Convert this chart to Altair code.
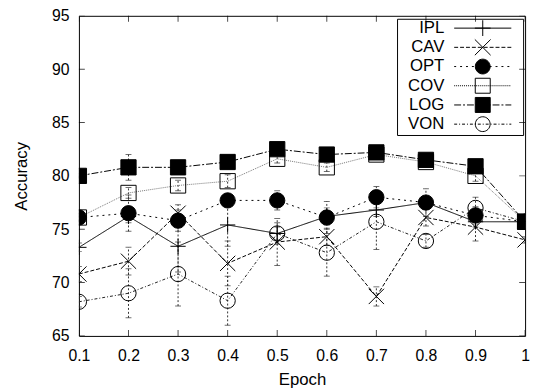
import altair as alt
import pandas as pd

SERIES = ["IPL", "CAV", "OPT", "COV", "LOG", "VON"]
EPOCH = [0.1, 0.2, 0.3, 0.4, 0.5, 0.6, 0.7, 0.8, 0.9, 1.0]

IPL = [73.3, 76.2, 73.4, 75.4, 74.6, 76.2, 76.8, 77.5, 75.7, 75.7]
CAV = [70.8, 72.0, 76.5, 71.8, 73.8, 74.3, 68.7, 76.1, 75.2, 74.0]
OPT = [76.1, 76.5, 75.8, 77.7, 77.7, 76.1, 78.0, 77.5, 76.3, 75.7]
COV = [76.1, 78.4, 79.1, 79.5, 81.6, 80.8, 82.0, 81.3, 80.0, 75.7]
LOG = [80.0, 80.8, 80.8, 81.3, 82.5, 82.0, 82.2, 81.5, 80.9, 75.7]
VON = [68.2, 69.0, 70.8, 68.3, 74.6, 72.8, 75.7, 73.9, 77.0, 75.7]

IPL_ERR = [0.4, 0.6, 2.4, 2.0, 0.6, 0.8, 0.6, 0.6, 0.5, 0.1]
CAV_ERR = [0.7, 1.3, 0.8, 2.1, 2.2, 0.8, 0.9, 0.8, 1.3, 0.3]
OPT_ERR = [0.4, 1.7, 1.0, 0.5, 0.9, 1.5, 1.0, 1.3, 0.8, 0.2]
COV_ERR = [0.3, 0.5, 0.5, 0.6, 0.4, 0.4, 0.3, 0.3, 0.5, 0.2]
LOG_ERR = [0.2, 1.2, 0.2, 0.2, 0.3, 0.2, 0.3, 0.3, 0.3, 0.1]
VON_ERR = [0.5, 2.3, 3.0, 2.3, 1.0, 2.2, 2.6, 0.6, 1.0, 0.2]

XTICKS = [0.1, 0.2, 0.3, 0.4, 0.5, 0.6, 0.7, 0.8, 0.9, 1.0]
YTICKS = [65, 70, 75, 80, 85, 90, 95]

values = {"IPL": IPL, "CAV": CAV, "OPT": OPT, "COV": COV, "LOG": LOG, "VON": VON}
errors = {"IPL": IPL_ERR, "CAV": CAV_ERR, "OPT": OPT_ERR, "COV": COV_ERR, "LOG": LOG_ERR, "VON": VON_ERR}

rows = []
for s in SERIES:
    for e, v, d in zip(EPOCH, values[s], errors[s]):
        rows.append({"epoch": e, "series": s, "acc": v,
                     "lo": round(v - d, 3), "hi": round(v + d, 3)})
df = pd.DataFrame(rows)
xt = pd.DataFrame({"t": XTICKS})
yt = pd.DataFrame({"t": YTICKS})

FONT = "Liberation Sans"
DASHES = [[1, 0], [4, 2], [2, 4], [1, 1], [7, 2, 2, 2], [3, 2, 1, 2]]
LINECOLORS = ["#000000", "#000000", "#000000", "#777777", "#000000", "#222222"]
FILLS = ["transparent", "transparent", "black", "transparent", "black", "transparent"]

# ---- marker paths (unit = symbol radius) ----
PLUS = "M-1,0L1,0M0,-1L0,1"
XMARK = "M-1,-1L1,1M-1,1L1,-1"
CIRC = "M-0.94,0A0.94,0.94,0,1,1,0.94,0A0.94,0.94,0,1,1,-0.94,0Z"
SQR = "M-0.95,-0.95L0.95,-0.95L0.95,0.95L-0.95,0.95Z"
POINT_SHAPES = [PLUS, XMARK, "circle", "square", "square", "circle"]

LEG_SIZE = 256          # symbol radius = 8 px
R = 8.0
HALF = 29.0             # half length of the legend line sample, px


def dashed(pattern, half=HALF, r=R):
    """legend line sample drawn as explicit dash segments (in symbol units)."""
    if len(pattern) == 2 and pattern[1] == 0:
        return "M%.3f,0L%.3f,0" % (-half / r, half / r)
    out = []
    x = -half
    i = 0
    while x < half:
        seg = pattern[i % len(pattern)]
        if i % 2 == 0:
            x2 = min(x + seg, half)
            out.append("M%.3f,0L%.3f,0" % (x / r, x2 / r))
        x += seg
        i += 1
    return "".join(out)


LEGEND_MARKS = [PLUS, XMARK, CIRC, SQR, SQR, CIRC]
# zero-length segment at the right widens the legend frame without drawing
LEGEND_PATHS = [dashed(p) + m + "M4.7,0L4.7,0" for p, m in zip(DASHES, LEGEND_MARKS)]
LEGEND_STROKES = ["#000000"] * 6

xscale = alt.Scale(domain=[0.1, 1.0], nice=False, zero=False)
yscale = alt.Scale(domain=[65, 95], nice=False, zero=False)

xaxis = alt.Axis(values=XTICKS, format="~g", title="Epoch", grid=False, domain=False,
                 ticks=False, tickSize=0, labelPadding=12, labelFontSize=16,
                 labelFont=FONT, labelColor="black", labelFlush=False,
                 titleFont=FONT, titleFontSize=17, titleFontWeight="normal",
                 titleColor="black", titleY=49, titleBaseline="alphabetic")
yaxis = alt.Axis(values=YTICKS, title="Accuracy", grid=False, domain=False,
                 ticks=False, tickSize=0, labelPadding=10, labelFontSize=16,
                 labelFont=FONT, labelColor="black", labelFlush=False,
                 titleFont=FONT, titleFontSize=17, titleFontWeight="normal",
                 titleColor="black", titleX=-53, titleY=162.5,
                 titleBaseline="alphabetic")

X = alt.X("epoch:Q", scale=xscale, axis=xaxis, title="Epoch")
Y = alt.Y("acc:Q", scale=yscale, axis=yaxis, title="Accuracy")

legend = alt.Legend(title=None, orient="none", legendX=323, legendY=3,
                    direction="vertical", padding=1, rowPadding={"expr": "-1.5"},
                    labelFont=FONT, labelFontSize=17, labelColor="black",
                    labelAlign="right", labelBaseline="middle",
                    labelOffset={"expr": "-47.5"},
                    symbolOffset=77.5, symbolSize=LEG_SIZE, symbolStrokeWidth=1,
                    symbolStrokeColor="black", strokeColor="black")

err = alt.Chart(df).mark_rule(strokeDash=[2, 2], strokeWidth=1, color="#333333", clip=True).encode(
    x=X, y=alt.Y("lo:Q", scale=yscale, axis=yaxis, title="Accuracy"), y2="hi:Q")
cap_lo = alt.Chart(df).mark_tick(orient="horizontal", size=6, thickness=1, color="#333333", clip=True).encode(
    x=X, y=alt.Y("lo:Q", scale=yscale, axis=yaxis, title="Accuracy"))
cap_hi = alt.Chart(df).mark_tick(orient="horizontal", size=6, thickness=1, color="#333333", clip=True).encode(
    x=X, y=alt.Y("hi:Q", scale=yscale, axis=yaxis, title="Accuracy"))

lines = alt.Chart(df).mark_line(strokeWidth=1, clip=True).encode(
    x=X, y=Y,
    strokeDash=alt.StrokeDash("series:N", scale=alt.Scale(domain=SERIES, range=DASHES), legend=None),
    stroke=alt.Stroke("series:N", scale=alt.Scale(domain=SERIES, range=LINECOLORS), legend=None),
)

points = alt.Chart(df).mark_point(size=240, strokeWidth=1, opacity=1, stroke="black", clip=True).encode(
    x=X, y=Y,
    shape=alt.Shape("series:N", scale=alt.Scale(domain=SERIES, range=POINT_SHAPES), legend=None),
    fill=alt.Fill("series:N", scale=alt.Scale(domain=SERIES, range=FILLS), legend=None),
)

# legend-only layer: no rows survive the filter, the legend comes from the explicit domain
df_leg = df.rename(columns={"series": "series_l"})
leg_layer = alt.Chart(df_leg).transform_filter("false").mark_point(
    size=LEG_SIZE, strokeWidth=1, opacity=1).encode(
    x=X, y=Y,
    shape=alt.Shape("series_l:N", scale=alt.Scale(domain=SERIES, range=LEGEND_PATHS), legend=legend),
    fill=alt.Fill("series_l:N", scale=alt.Scale(domain=SERIES, range=FILLS), legend=legend),
    stroke=alt.Stroke("series_l:N", scale=alt.Scale(domain=SERIES, range=LEGEND_STROKES), legend=legend),
)

tick_kw = dict(size=12, thickness=1, color="black", clip=True)
t_bottom = alt.Chart(xt).mark_tick(orient="vertical", **tick_kw).encode(
    x=alt.X("t:Q", scale=xscale, axis=xaxis, title="Epoch"),
    y=alt.YDatum(65, axis=yaxis, title="Accuracy"))
t_top = alt.Chart(xt).mark_tick(orient="vertical", **tick_kw).encode(
    x=alt.X("t:Q", scale=xscale, axis=xaxis, title="Epoch"),
    y=alt.YDatum(95, axis=yaxis, title="Accuracy"))
t_left = alt.Chart(yt).mark_tick(orient="horizontal", **tick_kw).encode(
    y=alt.Y("t:Q", scale=yscale, axis=yaxis, title="Accuracy"),
    x=alt.XDatum(0.1, axis=xaxis, title="Epoch"))
t_right = alt.Chart(yt).mark_tick(orient="horizontal", **tick_kw).encode(
    y=alt.Y("t:Q", scale=yscale, axis=yaxis, title="Accuracy"),
    x=alt.XDatum(1.0, axis=xaxis, title="Epoch"))

chart = alt.layer(err, cap_lo, cap_hi, lines, points, leg_layer,
                  t_bottom, t_top, t_left, t_right).resolve_scale(
    shape="independent", fill="independent", stroke="independent").properties(
    width=453, height=325,
    autosize=alt.AutoSizeParams(type="none"),
    padding={"left": 72, "top": 5, "right": 6, "bottom": 54},
    background="white",
).configure_view(stroke="black", strokeWidth=1)

chart.save("out.html", embed_options={"renderer": "svg", "actions": False})
